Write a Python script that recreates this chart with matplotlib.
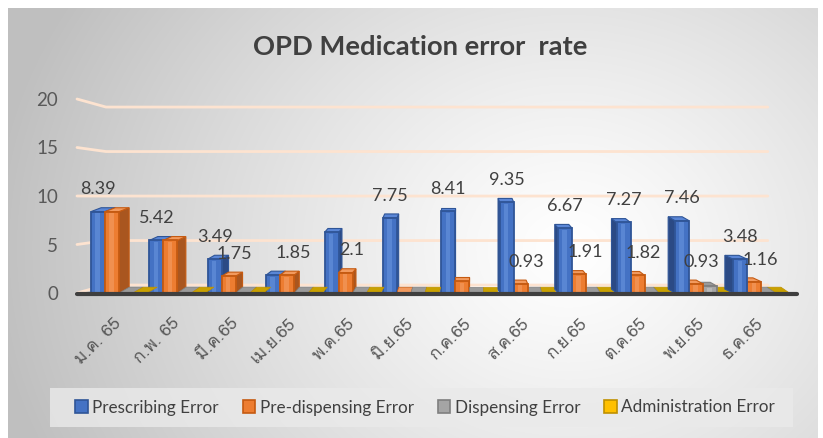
import numpy as np
import matplotlib
matplotlib.use("Agg")
import matplotlib.pyplot as plt
import matplotlib.font_manager as fm
import matplotlib.transforms as mtrans
from matplotlib.patches import Patch, Rectangle
from matplotlib.ft2font import FT2Font

months = ['ม.ค. 65', 'ก.พ. 65', 'มี.ค.65', 'เม.ย.65', 'พ.ค.65', 'มิ.ย.65',
          'ก.ค.65', 'ส.ค.65', 'ก.ย.65', 'ต.ค.65', 'พ.ย.65', 'ธ.ค.65']
prescribing = [8.39, 5.42, 3.49, 1.85, 6.25, 7.75, 8.41, 9.35, 6.67, 7.27, 7.46, 3.48]
pre_dispensing = [8.39, 5.42, 1.75, 1.85, 2.10, 0, 1.21, 0.93, 1.91, 1.82, 0.93, 1.16]
dispensing = [0, 0, 0, 0, 0, 0, 0, 0, 0, 0, 0.7, 0]
administration = [0, 0, 0, 0, 0, 0, 0, 0, 0, 0, 0, 0]
# labels that the reference actually shows (None = no label)
prescribing_lbl = [8.39, 5.42, 3.49, None, None, 7.75, 8.41, 9.35, 6.67, 7.27, 7.46, 3.48]
pre_dispensing_lbl = [None, None, 1.75, 1.85, 2.1, None, None, 0.93, 1.91, 1.82, 0.93, 1.16]
series_names = ['Prescribing Error', 'Pre-dispensing Error', 'Dispensing Error', 'Administration Error']
yticks = [0, 5, 10, 15, 20]

# front, edge, side, top, highlight
colors = [
    ('#4472C4', '#2F5597', '#2B4A85', '#5A86D6', '#6C98E0'),
    ('#ED7D31', '#C55A11', '#A9561F', '#F29A5E', '#F4A06A'),
    ('#A5A5A5', '#7F7F7F', '#8A8A8A', '#9A9A9A', '#C8C8C8'),
    ('#FFC000', '#BF9000', '#B08800', '#C9A100', '#FFD24D'),
]

# find a font with Thai glyphs, if any is installed
thai_font = None
for f in fm.fontManager.ttflist:
    try:
        if 0x0E21 in FT2Font(f.fname).get_charmap():
            thai_font = f.name
            break
    except Exception:
        pass
thai_family = [thai_font, 'Lato', 'DejaVu Sans'] if thai_font else ['Lato', 'DejaVu Sans']

plt.rcParams['font.family'] = ['Lato', 'DejaVu Sans']

W, H = 823, 438
fig = plt.figure(figsize=(W / 100, H / 100), dpi=100, facecolor='white')

# gradient background of the chart area
bg = fig.add_axes([8 / W, 0, (818 - 8) / W, (438 - 8) / H], zorder=-10)
yy, xx = np.mgrid[0:430, 0:810]
d = np.sqrt(((xx - 560) / 1.0) ** 2 + ((yy - 240) / 0.85) ** 2) / 580
val = 1 - 0.25 * np.clip(d, 0, 1) ** 1.2
bg.imshow(np.dstack([val, val, val]), aspect='auto', extent=(0, 1, 0, 1))
bg.axis('off')

ax = fig.add_axes([77 / W, (H - 293) / H, (797 - 77) / W, (293 - 99) / H])
ax.set_facecolor('none')
for s in ax.spines.values():
    s.set_visible(False)
ax.set_xlim(-0.719, 11.61)
ax.set_ylim(0, 20)

# 3D-ish gridlines: slope from the front-left corner to the back wall
x_front, x_bl, x_br = -0.719, -0.223, 11.11
for v in yticks:
    vb = 0.82 + v * 0.9175
    ax.plot([x_front, x_bl, x_br], [v, vb, vb], color='#FDE3D0', lw=2.0,
            zorder=1, solid_capstyle='round', clip_on=False)

bw = 0.24
dy = 0.4
tile_h = 0.6
offsets = [-0.48, -0.24, 0.0, 0.24]
all_series = [prescribing, pre_dispensing, dispensing, administration]


def draw_bar(x0, h, dx, c, z):
    front, edge, side, top, hi = c
    x1 = x0 + bw
    if h <= 0:
        ax.fill([x0, x1, x1 + dx, x0 + dx], [0, 0, tile_h, tile_h], color=top,
                ec=edge, lw=0.5, zorder=z)
        return
    if dx >= 0:
        ax.fill([x1, x1, x1 + dx, x1 + dx], [0, h, h + dy, dy], color=side, ec=edge, lw=0.8, zorder=z)
    else:
        ax.fill([x0, x0, x0 + dx, x0 + dx], [0, h, h + dy, dy], color=side, ec=edge, lw=0.8, zorder=z)
    ax.fill([x0, x1, x1 + dx, x0 + dx], [h, h, h + dy, h + dy], color=top, ec=edge, lw=0.8, zorder=z)
    ax.fill([x0, x1, x1, x0], [0, 0, h, h], color=front, ec=edge, lw=1.3, zorder=z)
    ax.fill([x0 + 0.3 * bw, x0 + 0.62 * bw, x0 + 0.62 * bw, x0 + 0.3 * bw],
            [0.15, 0.15, h - 0.15, h - 0.15], color=hi, alpha=0.55, lw=0, zorder=z)


for i in range(len(months)):
    dx = (6 - i) * 0.029
    order = range(4) if dx >= 0 else range(3, -1, -1)
    for k, s in enumerate(order):
        draw_bar(i + offsets[s], all_series[s][i], dx, colors[s], 5 + k + i * 0.01)

# floor front edge
ax.plot([-0.719, 11.61], [-0.1, -0.1], color='#3F3F3F', lw=3.0, zorder=20,
        solid_capstyle='round', clip_on=False)

# data labels
for i in range(len(months)):
    if prescribing_lbl[i] is not None:
        ax.annotate('{:g}'.format(prescribing_lbl[i]), (i + offsets[0] + bw / 2, prescribing[i]),
                    xytext=(0, 16), textcoords='offset points', ha='center', va='center',
                    fontsize=13, color='#404040', zorder=30)
    if pre_dispensing_lbl[i] is not None:
        ax.annotate('{:g}'.format(pre_dispensing_lbl[i]), (i + offsets[1] + bw / 2 + 0.1, pre_dispensing[i]),
                    xytext=(0, 16), textcoords='offset points', ha='center', va='center',
                    fontsize=13, color='#404040', zorder=30)

ax.set_yticks(yticks)
ax.set_yticklabels([str(v) for v in yticks], fontsize=13.5, color='#595959')
ax.tick_params(axis='y', length=0, pad=13.5)
ax.set_xticks(range(len(months)))
ax.set_xticklabels(months, rotation=45, ha='right', va='top', rotation_mode='anchor',
                   fontsize=12.5, color='#595959', family=thai_family)
ax.tick_params(axis='x', length=0, pad=16)
shift = mtrans.ScaledTranslation(-6 / 100, 0, fig.dpi_scale_trans)
for lab in ax.get_xticklabels():
    lab.set_transform(lab.get_transform() + shift)

fig.text(420 / W, 1 - 47 / H, 'OPD Medication error  rate', ha='center', va='center',
         fontsize=19.7, fontweight='bold', color='#404040')

# legend box
fig.patches.append(Rectangle((50 / W, 1 - 427 / H), (793 - 50) / W, 39 / H,
                             transform=fig.transFigure, facecolor='#EAEAEA', alpha=0.8,
                             edgecolor='none', zorder=1))
handles = [Patch(facecolor=c[0], edgecolor=c[1], lw=1.2) for c in colors]
leg = fig.legend(handles, series_names, loc='center', bbox_to_anchor=(425 / W, 1 - 407.5 / H),
                 ncol=4, frameon=False, fontsize=12.3, handlelength=0.75,
                 handleheight=0.75, handletextpad=0.25, columnspacing=1.4,
                 labelcolor='#404040')

fig.savefig('out.png', dpi=100, facecolor='white')
